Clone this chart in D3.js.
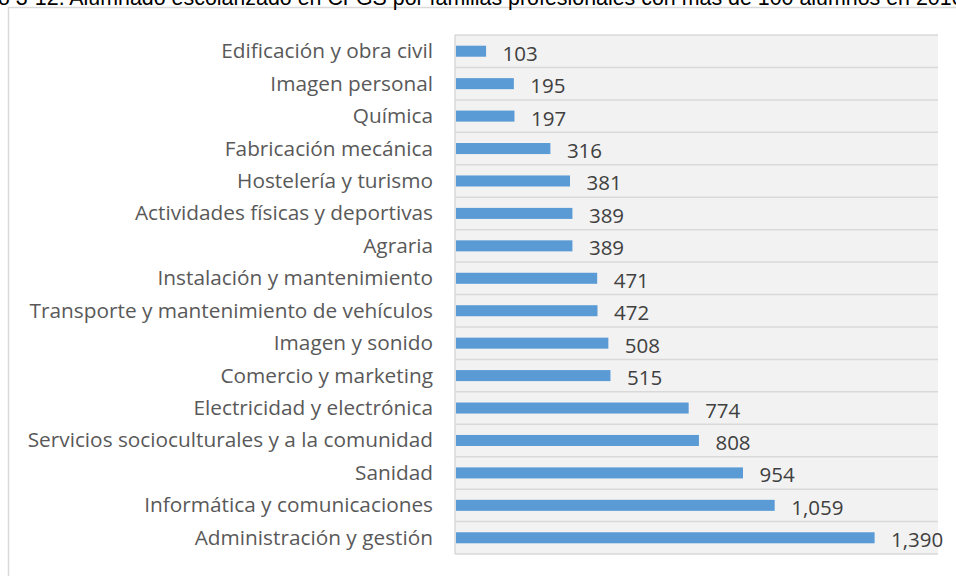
<!DOCTYPE html>
<html>
<head>
<meta charset="utf-8">
<script src="https://cdn.jsdelivr.net/npm/d3@7"></script>
<style>
  body { margin: 0; background: #fff; }
  svg { display: block; }
</style>
</head>
<body>
<svg id="chart"></svg>
<script>
var width = 956, height = 576;

var title = "Gráfico 3-12. Alumnado escolarizado en CFGS por familias profesionales con más de 100 alumnos en 2016-2017";
var categories = [
  "Edificación y obra civil",
  "Imagen personal",
  "Química",
  "Fabricación mecánica",
  "Hostelería y turismo",
  "Actividades físicas y deportivas",
  "Agraria",
  "Instalación y mantenimiento",
  "Transporte y mantenimiento de vehículos",
  "Imagen y sonido",
  "Comercio y marketing",
  "Electricidad y electrónica",
  "Servicios socioculturales y a la comunidad",
  "Sanidad",
  "Informática y comunicaciones",
  "Administración y gestión"
];
var alumnos = [103, 195, 197, 316, 381, 389, 389, 471, 472, 508, 515, 774, 808, 954, 1059, 1390];

var rows = categories.map(function(c, i) { return {name: c, value: alumnos[i]}; });

var svg = d3.select("#chart")
  .attr("width", width)
  .attr("height", height);

// outer chart frame (runs off the right / bottom edge)
svg.append("rect")
  .attr("x", 8.5).attr("y", 7.5)
  .attr("width", 1000).attr("height", 700)
  .attr("fill", "#fff")
  .attr("stroke", "#d9d9d9")
  .attr("stroke-width", 1.5);

// title, cut off at the top like in the source picture
var titleFont = "21.4px 'Liberation Sans', Arial, sans-serif";
var t = svg.append("text")
  .attr("y", 5)
  .style("font", titleFont)
  .attr("fill", "#000")
  .text(title);
var tmp = svg.append("text")
  .style("font", titleFont)
  .text("Gráfic");
var pre = tmp.node().getComputedTextLength();
tmp.remove();
t.attr("x", -pre - 2);

var x = d3.scaleLinear()
  .domain([0, 1600])
  .range([455, 938]);

var y = d3.scaleBand()
  .domain(categories)
  .range([35, 554])
  .paddingInner(0.66)
  .paddingOuter(0.33);

// plot background
svg.append("rect")
  .attr("x", x(0)).attr("y", y.range()[0])
  .attr("width", x(1600) - x(0))
  .attr("height", y.range()[1] - y.range()[0])
  .attr("fill", "#f2f2f2");

// row separators
svg.selectAll(".grid").data(d3.range(categories.length + 1)).enter()
  .append("line")
  .attr("class", "grid")
  .attr("x1", x(0)).attr("x2", x(1600))
  .attr("y1", function(i) { return y.range()[0] + i * y.step(); })
  .attr("y2", function(i) { return y.range()[0] + i * y.step(); })
  .attr("stroke", "#d9d9d9")
  .attr("stroke-width", 1.5);

// category axis line
svg.append("line")
  .attr("x1", x(0)).attr("x2", x(0))
  .attr("y1", y.range()[0]).attr("y2", y.range()[1])
  .attr("stroke", "#d9d9d9")
  .attr("stroke-width", 1.5);

svg.selectAll(".bar").data(rows).enter()
  .append("rect")
  .attr("class", "bar")
  .attr("x", x(0) + 1)
  .attr("y", function(d) { return y(d.name); })
  .attr("width", function(d) { return x(d.value) - x(0) - 1; })
  .attr("height", y.bandwidth())
  .attr("fill", "#5b9bd5");

svg.selectAll(".cat").data(rows).enter()
  .append("text")
  .attr("class", "cat")
  .attr("x", 433)
  .attr("y", function(d) { return y(d.name) + y.bandwidth() / 2 + 7; })
  .attr("text-anchor", "end")
  .style("font-family", "'Open Sans', sans-serif")
  .style("font-size", "20.8px")
  .attr("fill", "#595959")
  .text(function(d) { return d.name; });

svg.selectAll(".val").data(rows).enter()
  .append("text")
  .attr("class", "val")
  .attr("x", function(d) { return x(d.value) + 16.5; })
  .attr("y", function(d) { return y(d.name) + y.bandwidth() / 2 + 9.5; })
  .style("font-family", "'Open Sans', sans-serif")
  .style("font-size", "20.5px")
  .attr("fill", "#404040")
  .text(function(d) { return d3.format(",")(d.value); });
</script>
</body>
</html>
